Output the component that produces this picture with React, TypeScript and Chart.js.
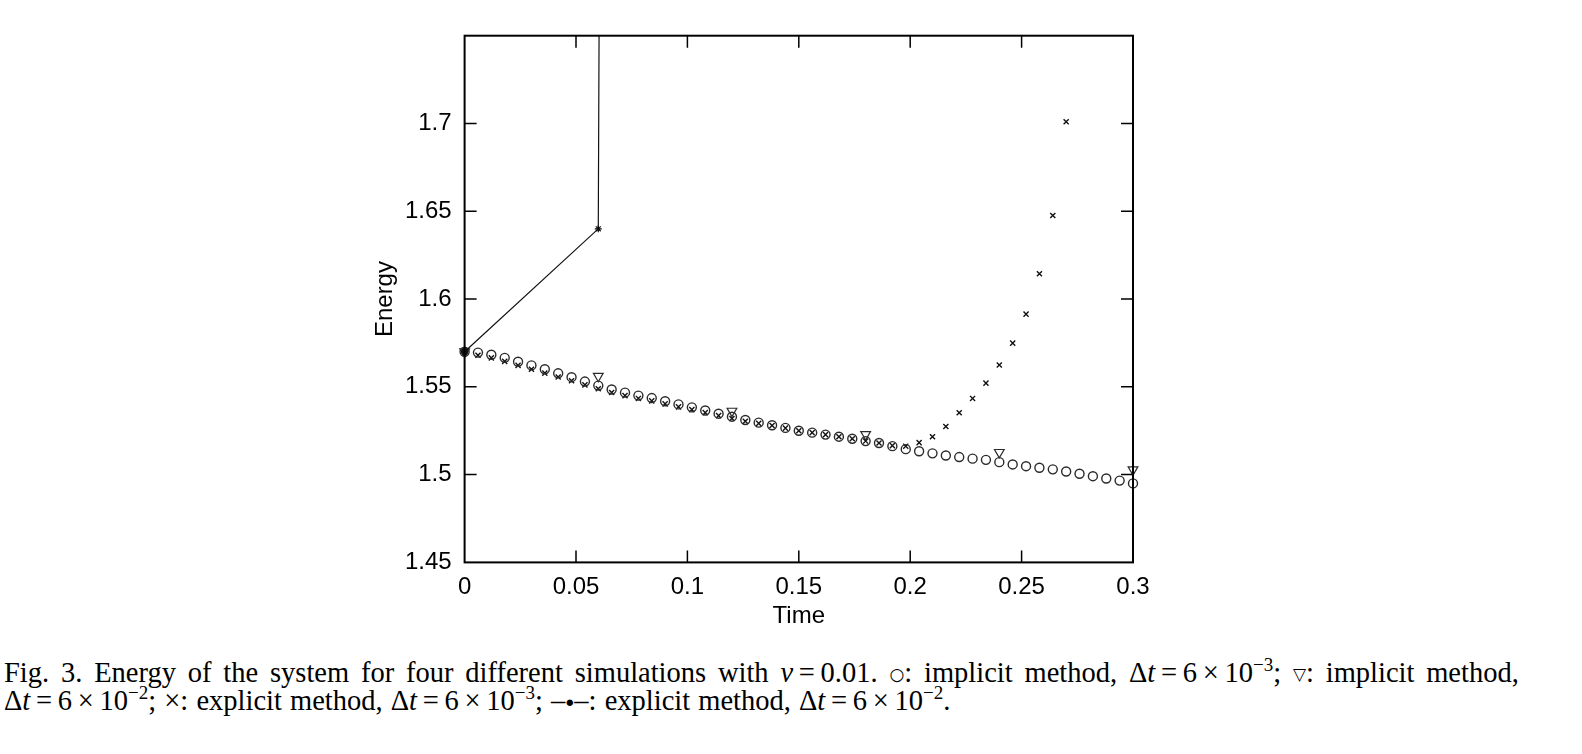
import React, { useEffect, useRef } from "react";
import { Chart, registerables } from "chart.js";

Chart.register(...registerables);

// Time grid of the fine simulations (Δt = 6e-3)
const timeFine = [
  0, 0.006, 0.012, 0.018, 0.024, 0.03, 0.036, 0.042, 0.048, 0.054, 0.06,
  0.066, 0.072, 0.078, 0.084, 0.09, 0.096, 0.102, 0.108, 0.114, 0.12,
  0.126, 0.132, 0.138, 0.144, 0.15, 0.156, 0.162, 0.168, 0.174, 0.18,
  0.186, 0.192, 0.198, 0.204, 0.21, 0.216, 0.222, 0.228, 0.234, 0.24,
  0.246, 0.252, 0.258, 0.264, 0.27, 0.276, 0.282, 0.288, 0.294, 0.3,
];

// ○ implicit method, Δt = 6e-3
const implicitFine = [
  1.57, 1.5695, 1.5683, 1.5665, 1.5643, 1.5622, 1.56, 1.5577, 1.5555, 1.553, 1.5507,
  1.5485, 1.5467, 1.545, 1.5436, 1.5418, 1.54, 1.5383, 1.5365, 1.5347, 1.533,
  1.5311, 1.5296, 1.5281, 1.5266, 1.525, 1.5239, 1.5228, 1.5216, 1.5204, 1.5191,
  1.518, 1.5162, 1.5145, 1.5133, 1.5121, 1.5109, 1.51, 1.5091, 1.5084, 1.5071,
  1.5058, 1.5048, 1.5039, 1.503, 1.5018, 1.5005, 1.4991, 1.4978, 1.4966, 1.495,
];

// × explicit method, Δt = 6e-3 (last value is beyond the top of the axis)
const explicitFine = [
  1.57, 1.568, 1.5665, 1.5645, 1.5622, 1.56, 1.5578, 1.5556, 1.5535, 1.5511, 1.5489,
  1.5468, 1.545, 1.5434, 1.542, 1.5403, 1.5386, 1.537, 1.5353, 1.5336, 1.532,
  1.5304, 1.5292, 1.528, 1.5265, 1.525, 1.5239, 1.5228, 1.5216, 1.5204, 1.5191,
  1.518, 1.5165, 1.5162, 1.5182, 1.5216, 1.5274, 1.5352, 1.5434, 1.5521, 1.5624,
  1.5749, 1.5914, 1.6144, 1.6476, 1.701, 1.8,
];

// ∇ implicit method, Δt = 6e-2
const timeCoarse = [0, 0.06, 0.12, 0.18, 0.24, 0.3];
const implicitCoarse = [1.57, 1.5561, 1.5362, 1.5229, 1.5127, 1.5028];

// —●— explicit method, Δt = 6e-2 (third value blows up far above the axis)
const timeExplicitCoarse = [0, 0.06, 0.12];
const explicitCoarse = [1.57, 1.64, 1000];

const xTicks = [0, 0.05, 0.1, 0.15, 0.2, 0.25, 0.3];
const xTickLabels = ["0", "0.05", "0.1", "0.15", "0.2", "0.25", "0.3"];
const yTicks = [1.45, 1.5, 1.55, 1.6, 1.65, 1.7];
const yTickLabels = ["1.45", "1.5", "1.55", "1.6", "1.65", "1.7"];

const SANS = '"Liberation Sans", Arial, Helvetica, sans-serif';
const SERIF = '"Liberation Serif", "Times New Roman", serif';

const framePlugin = {
  id: "frameTicks",
  afterDraw(chart: any) {
    const { ctx, chartArea, scales } = chart;
    const { left, right, top, bottom } = chartArea;
    const tl = 12;
    ctx.save();
    ctx.strokeStyle = "#000";
    ctx.lineWidth = 1.5;
    ctx.beginPath();
    for (const v of xTicks) {
      const px = scales.x.getPixelForValue(v);
      if (Math.abs(px - left) < 1 || Math.abs(px - right) < 1) continue;
      ctx.moveTo(px, bottom);
      ctx.lineTo(px, bottom - tl);
      ctx.moveTo(px, top);
      ctx.lineTo(px, top + tl);
    }
    for (const v of yTicks) {
      const py = scales.y.getPixelForValue(v);
      if (Math.abs(py - bottom) < 1 || Math.abs(py - top) < 1) continue;
      ctx.moveTo(left, py);
      ctx.lineTo(left + tl, py);
      ctx.moveTo(right, py);
      ctx.lineTo(right - tl, py);
    }
    ctx.stroke();
    ctx.lineWidth = 2;
    ctx.strokeRect(left, top, right - left, bottom - top);
    ctx.restore();
  },
};

function ChartCanvas() {
  const ref = useRef<HTMLCanvasElement | null>(null);
  useEffect(() => {
    if (!ref.current) return;
    const pts = (xs: number[], ys: number[]) => ys.map((y, i) => ({ x: xs[i], y }));
    const chart = new Chart(ref.current, {
      type: "scatter",
      data: {
        datasets: [
          {
            label: "explicit Δt=6e-2",
            data: pts(timeExplicitCoarse, explicitCoarse),
            showLine: true,
            borderColor: "#111",
            backgroundColor: "#111",
            borderWidth: 1.2,
            pointStyle: ["circle", "star", "circle"],
            pointRadius: [3, 3.5, 3],
            pointBorderWidth: 1.2,
            clip: { left: 10, top: 0, right: 0, bottom: 0 },
          } as any,
          {
            label: "implicit Δt=6e-3",
            data: pts(timeFine, implicitFine),
            showLine: false,
            borderColor: "#2a2a2a",
            backgroundColor: "rgba(0,0,0,0)",
            pointStyle: "circle",
            pointRadius: 4.5,
            pointBorderWidth: 1.4,
            clip: false,
          } as any,
          {
            label: "explicit Δt=6e-3",
            data: pts(timeFine, explicitFine),
            showLine: false,
            borderColor: "#111",
            backgroundColor: "rgba(0,0,0,0)",
            pointStyle: "crossRot",
            pointRadius: 3.6,
            pointBorderWidth: 1.4,
            clip: { left: 10, top: 0, right: 10, bottom: 10 },
          } as any,
          {
            label: "implicit Δt=6e-2",
            data: pts(timeCoarse, implicitCoarse),
            showLine: false,
            borderColor: "#2a2a2a",
            backgroundColor: "rgba(0,0,0,0)",
            pointStyle: "triangle",
            pointRotation: 180,
            pointRadius: 5.6,
            pointBorderWidth: 1.2,
            clip: false,
          } as any,
        ],
      },
      options: {
        animation: false,
        responsive: false,
        devicePixelRatio: 1,
        layout: { padding: { left: 370.6, top: 35.7, right: 449, bottom: 9.6 } },
        plugins: { legend: { display: false }, tooltip: { enabled: false } },
        scales: {
          x: {
            type: "linear",
            min: 0,
            max: 0.3,
            afterBuildTicks: (s: any) => {
              s.ticks = xTicks.map((v) => ({ value: v }));
            },
            afterFit: (s: any) => {
              s.height = 68;
            },
            grid: { display: false, drawTicks: false },
            border: { display: false },
            ticks: {
              padding: 11,
              color: "#000",
              maxRotation: 0,
              font: { family: SANS, size: 24 },
              callback: (_v: any, i: number) => xTickLabels[i],
            },
            title: {
              display: true,
              text: "Time",
              color: "#000",
              font: { family: SANS, size: 24 },
              padding: 0,
            },
          },
          y: {
            type: "linear",
            min: 1.45,
            max: 1.75,
            afterBuildTicks: (s: any) => {
              s.ticks = yTicks.map((v) => ({ value: v }));
            },
            afterFit: (s: any) => {
              s.width = 94;
            },
            grid: { display: false, drawTicks: false },
            border: { display: false },
            ticks: {
              padding: 13,
              color: "#000",
              font: { family: SANS, size: 24 },
              callback: (_v: any, i: number) => yTickLabels[i],
            },
            title: {
              display: true,
              text: "Energy",
              color: "#000",
              font: { family: SANS, size: 24 },
              padding: 0,
            },
          },
        },
      } as any,
      plugins: [framePlugin],
    });
    return () => chart.destroy();
  }, []);
  return (
    <canvas
      ref={ref}
      width={1582}
      height={640}
      style={{ position: "absolute", left: 0, top: 0, width: 1582, height: 640 }}
    />
  );
}

const supStyle: React.CSSProperties = {
  fontSize: 19,
  position: "relative",
  top: "-0.6em",
  verticalAlign: "baseline",
};

const symStyle: React.CSSProperties = {
  fontFamily: '"DejaVu Sans", sans-serif',
  fontSize: 17,
  position: "relative",
  top: -2,
};

const T = "\u2009"; // thin space

const Eq = ({ e }: { e: string }) => (
  <span>
    Δ<i>t</i>
    {T}={T}6{T}×{T}10<span style={supStyle}>{e}</span>
  </span>
);

export default function App() {
  const captionBase: React.CSSProperties = {
    position: "absolute",
    left: 4,
    fontFamily: SERIF,
    fontSize: 28.5,
    lineHeight: "28px",
    color: "#000",
    whiteSpace: "nowrap",
  };
  return (
    <div
      style={{
        position: "absolute",
        left: 0,
        top: 0,
        width: 1582,
        height: 754,
        background: "#fff",
        overflow: "hidden",
      }}
    >
      <ChartCanvas />
      <div style={{ ...captionBase, top: 659, width: 1515 }}>
        <div style={{ display: "flex", justifyContent: "space-between" }}>
          {[
            "Fig.", "3.", "Energy", "of", "the", "system", "for", "four", "different",
            "simulations", "with",
          ].map((w, i) => (
            <span key={i}>{w}</span>
          ))}
          <span>
            <i>ν</i>
            {T}={T}0.01.
          </span>
          <span>
            <span style={symStyle}>○</span>:
          </span>
          <span>implicit</span>
          <span>method,</span>
          <span>
            <Eq e="−3" />;
          </span>
          <span>
            <span style={symStyle}>▽</span>:
          </span>
          <span>implicit</span>
          <span>method,</span>
        </div>
      </div>
      <div style={{ ...captionBase, top: 687, wordSpacing: 1 }}>
        <Eq e="−2" />; ×: explicit method, <Eq e="−3" />;{" "}
        <span>
          –<span style={{ fontSize: 15, position: "relative", top: -3 }}>●</span>–
        </span>
        : explicit method, <Eq e="−2" />.
      </div>
    </div>
  );
}
